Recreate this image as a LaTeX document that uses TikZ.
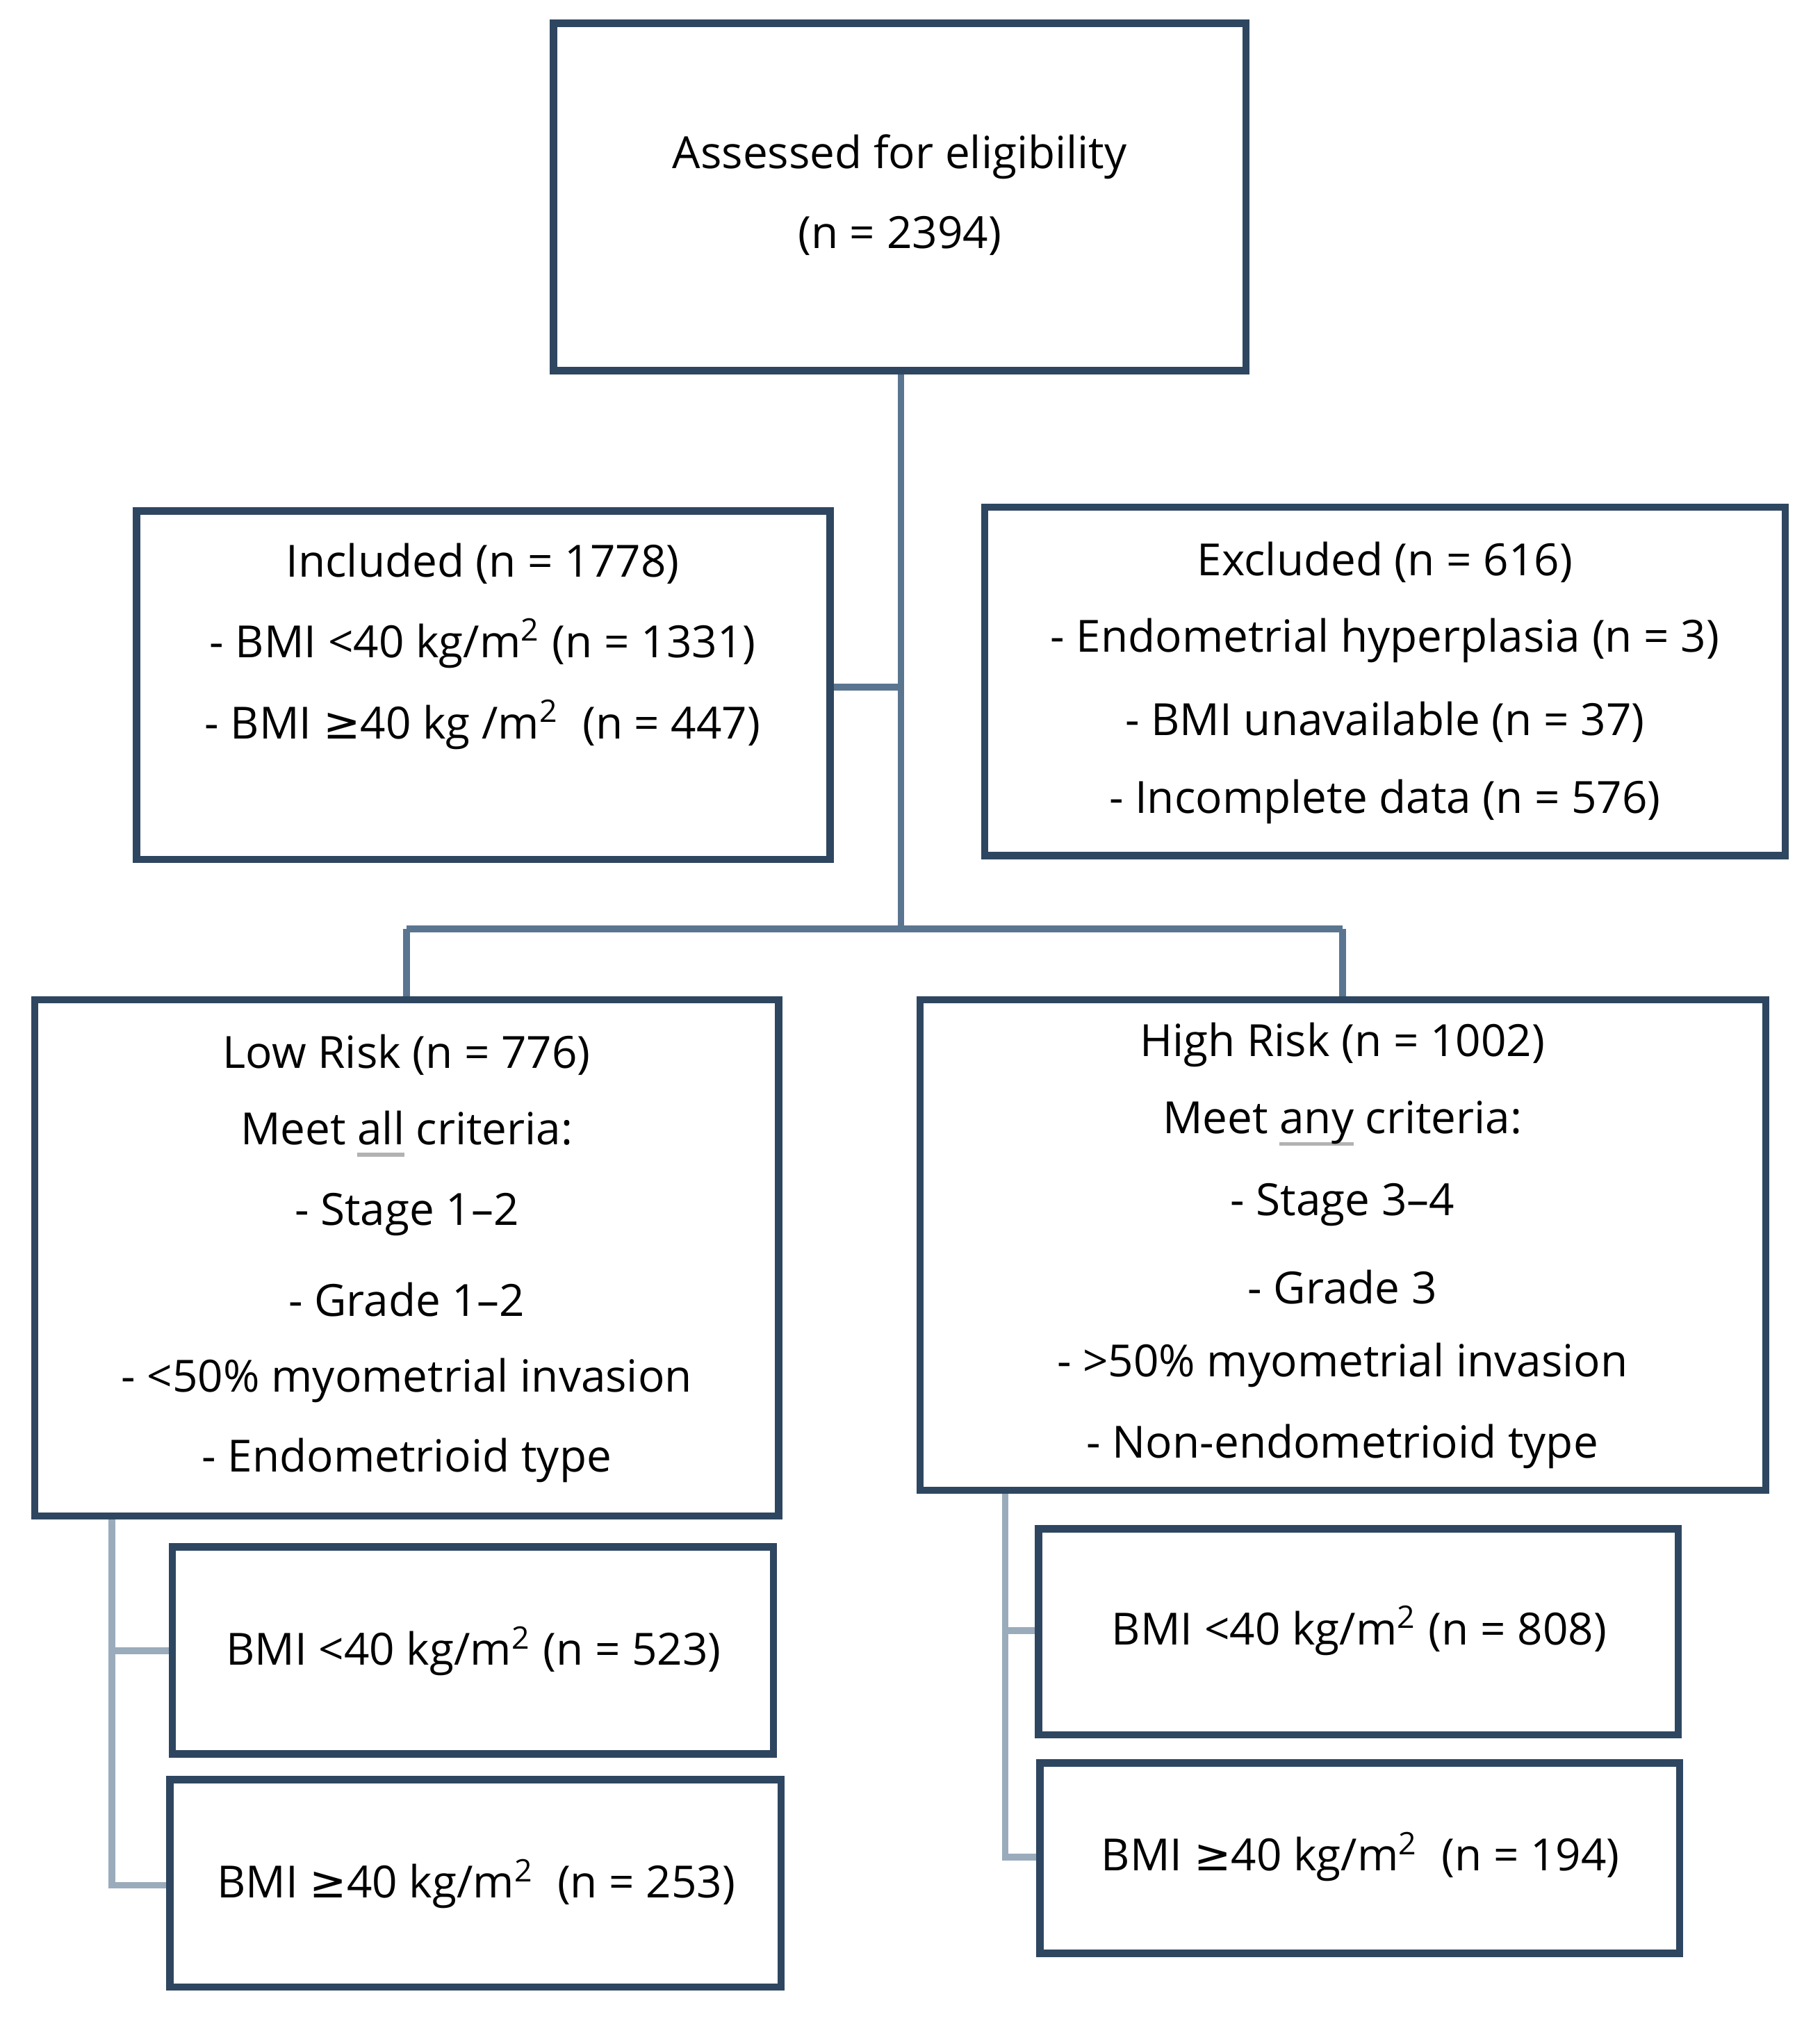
\documentclass[tikz,border=0pt]{standalone}
\usepackage{fontspec}
\setmainfont{Open Sans}
\newfontfamily\djv{DejaVu Sans}
\newcommand\myge{{\djv ≥}}
\newcommand\gul[1]{\setbox0\hbox{#1}\rlap{\color{black!30}\rule[-0.28em]{\wd0}{0.09em}}#1}
\begin{document}
\begin{tikzpicture}[x=0.01cm,y=-0.01cm,
 box/.style={draw=boxc,line width=1.6pt,fill=white},
 main/.style={draw=mainc,line width=1.5pt},
 sub/.style={draw=subc,line width=1.5pt},
 t/.style={font=\fontsize{9.8pt}{12pt}\selectfont,anchor=center,inner sep=0pt}]
\definecolor{boxc}{HTML}{2E4660}
\definecolor{mainc}{HTML}{5A7590}
\definecolor{subc}{HTML}{9AABBB}
\useasboundingbox (0,0) rectangle (1414,1569);
% connectors
\coordinate (j1) at (700,534);
\coordinate (j2) at (700,722);
\coordinate (jl) at (316,722);
\coordinate (jr) at (1043,722);
\draw[main] (700,288) -- (j2);
\draw[main] (645,534) -- (j1);
\draw[main] (jl) -- (jr);
\draw[main] (jl) -- (316,777);
\draw[main] (jr) -- (1043,777);
\draw[sub] (87,1178) -- (87,1465) -- (132,1465);
\draw[sub] (87,1283) -- (134,1283);
\draw[sub] (781,1158) -- (781,1443) -- (808,1443);
\draw[sub] (781,1267) -- (807,1267);
% boxes
\draw[box] (430,18) rectangle (968,288);
\node[t] (top1) at (699,122) {Assessed for eligibility};
\node[t] (top2) at (699,183) {(n = 2394)};
\draw[box] (106,397) rectangle (645,668);
\node[t] at (375,438) {Included (n = 1778)};
\node[t] at (375,500) {- BMI <40 kg/m\textsuperscript{2} (n = 1331)};
\node[t] at (375,563) {- BMI \myge40 kg /m\textsuperscript{2}\ \ (n = 447)};
\draw[box] (765,394) rectangle (1387,665);
\node[t] at (1076,437) {Excluded (n = 616)};
\node[t] at (1076,498) {- Endometrial hyperplasia (n = 3)};
\node[t] at (1076,561) {- BMI unavailable (n = 37)};
\node[t] at (1076,623) {- Incomplete data (n = 576)};
\draw[box] (27,777) rectangle (605,1178);
\node[t] at (316,820) {Low Risk (n = 776)};
\node[t] at (316,881) {Meet \gul{all} criteria:};
\node[t] at (316,944) {- Stage 1--2};
\node[t] at (316,1010) {- Grade 1--2};
\node[t] at (316,1073) {- <50\% myometrial invasion};
\node[t] at (316,1135) {- Endometrioid type};
\draw[box] (715,777) rectangle (1372,1158);
\node[t] at (1043,812) {High Risk (n = 1002)};
\node[t] at (1043,873) {Meet \gul{any} criteria:};
\node[t] at (1043,936) {- Stage 3--4};
\node[t] at (1043,1000) {- Grade 3};
\node[t] at (1043,1061) {- >50\% myometrial invasion};
\node[t] at (1043,1124) {- Non-endometrioid type};
\draw[box] (134,1202) rectangle (601,1363);
\node[t] at (368,1283) {BMI <40 kg/m\textsuperscript{2} (n = 523)};
\draw[box] (132,1383) rectangle (607,1544);
\node[t] at (370,1464) {BMI \myge40 kg/m\textsuperscript{2}\ \ (n = 253)};
\draw[box] (807,1188) rectangle (1304,1348);
\node[t] at (1056,1267) {BMI <40 kg/m\textsuperscript{2} (n = 808)};
\draw[box] (808,1370) rectangle (1305,1518);
\node[t] at (1057,1443) {BMI \myge40 kg/m\textsuperscript{2}\ \ (n = 194)};
\end{tikzpicture}
\end{document}
